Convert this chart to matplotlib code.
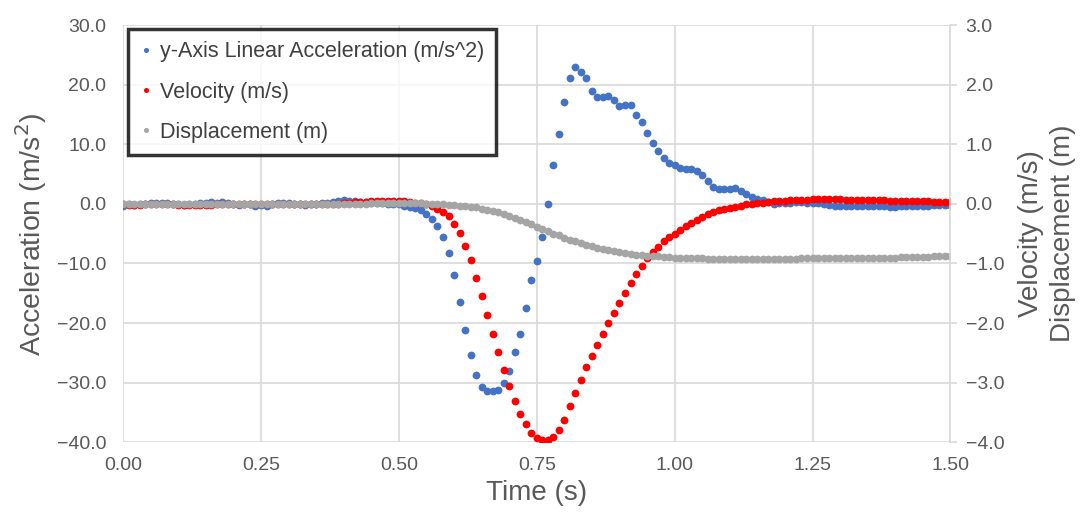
import numpy as np
import matplotlib
matplotlib.use("Agg")
import matplotlib.pyplot as plt
from matplotlib.ticker import FuncFormatter

plt.rcParams['font.family'] = ['Liberation Sans', 'DejaVu Sans']

# =============================================================================
# data (read off the chart, sampled every 0.01 s)
# =============================================================================
time_s = np.round(np.arange(0, 151) * 0.01, 2)

accel = [
    -0.3, -0.1, -0.2, -0.1, 0.0, 0.1, 0.2, 0.1, 0.2, 0.0,
    -0.1, -0.2, -0.1, 0.0, 0.1, 0.2, 0.3, 0.2, 0.3, 0.1,
    -0.1, -0.2, 0.0, -0.1, -0.3, -0.2, -0.3, -0.1, 0.1, 0.2,
    0.1, 0.0, -0.1, -0.2, -0.1, 0.0, 0.1, 0.2, 0.3, 0.5,
    0.6, 0.5, 0.4, 0.3, 0.3, 0.2, 0.2, 0.1, 0.0, 0.0,
    -0.1, -0.3, -0.5, -0.7, -1.1, -1.7, -2.5, -3.7, -5.6, -8.3,
    -12.0, -16.5, -21.2, -25.3, -28.8, -30.7, -31.4, -31.4, -31.2, -30.0,
    -28.1, -24.9, -21.9, -17.4, -12.8, -9.6, -5.5, 0.0, 6.5, 11.8,
    17.1, 21.2, 23.0, 22.2, 21.2, 19.0, 17.9, 17.9, 18.1, 17.5,
    16.4, 16.6, 16.6, 15.0, 13.8, 11.9, 10.3, 8.9, 7.7, 6.8,
    6.5, 6.1, 5.9, 5.9, 5.5, 4.9, 3.9, 2.8, 2.5, 2.5,
    2.5, 2.7, 2.1, 1.7, 1.2, 0.8, 0.7, 0.3, 0.0, 0.1,
    0.2, 0.2, 0.3, 0.3, 0.2, 0.2, 0.1, -0.1, -0.2, -0.3,
    -0.4, -0.4, -0.4, -0.3, -0.3, -0.4, -0.4, -0.4, -0.4, -0.5,
    -0.5, -0.4, -0.4, -0.4, -0.3, -0.3, -0.3, -0.2, -0.2, -0.2, -0.2,
]

velocity = [
    -0.01, -0.02, -0.02, -0.02, -0.01, 0.0, 0.0, 0.0, 0.0, 0.0,
    -0.02, -0.02, -0.02, -0.02, -0.02, -0.02, -0.02, 0.0, 0.0, 0.0,
    0.0, 0.0, 0.0, 0.0, 0.0, 0.0, 0.0, 0.0, 0.0, 0.0,
    0.0, 0.0, 0.0, 0.0, 0.0, 0.0, 0.0, 0.0, 0.0, 0.0,
    0.01, 0.02, 0.03, 0.03, 0.03, 0.04, 0.04, 0.04, 0.04, 0.04,
    0.04, 0.04, 0.03, 0.02, 0.01, -0.01, -0.03, -0.08, -0.14, -0.21,
    -0.34, -0.49, -0.71, -0.95, -1.25, -1.55, -1.86, -2.18, -2.49, -2.78,
    -3.06, -3.31, -3.53, -3.70, -3.84, -3.93, -3.97, -3.97, -3.91, -3.79,
    -3.62, -3.40, -3.17, -2.95, -2.74, -2.55, -2.37, -2.18, -2.00, -1.83,
    -1.66, -1.49, -1.33, -1.17, -1.04, -0.91, -0.81, -0.72, -0.63, -0.56,
    -0.50, -0.44, -0.37, -0.32, -0.27, -0.22, -0.17, -0.14, -0.11, -0.09,
    -0.07, -0.05, -0.03, -0.01, 0.00, 0.01, 0.02, 0.03, 0.04, 0.05,
    0.05, 0.06, 0.06, 0.07, 0.07, 0.08, 0.08, 0.08, 0.08, 0.08,
    0.08, 0.07, 0.07, 0.07, 0.07, 0.06, 0.06, 0.06, 0.06, 0.05,
    0.05, 0.05, 0.05, 0.04, 0.04, 0.04, 0.04, 0.03, 0.03, 0.03, 0.03,
]

displacement = [
    0.0, 0.0, 0.0, 0.0, 0.0, 0.0, 0.0, 0.0, 0.0, 0.0,
    0.0, 0.0, 0.0, 0.0, 0.0, 0.0, 0.0, 0.0, 0.0, 0.0,
    0.0, 0.0, 0.0, 0.0, 0.0, 0.0, 0.0, 0.0, 0.0, 0.0,
    0.0, 0.0, 0.0, 0.0, 0.0, 0.0, 0.0, 0.0, 0.0, 0.0,
    0.0, 0.0, 0.0, 0.0, 0.0, 0.01, 0.01, 0.01, 0.01, 0.01,
    0.01, 0.01, 0.01, 0.01, 0.01, 0.0, -0.01, -0.01, -0.01, -0.02,
    -0.02, -0.03, -0.04, -0.05, -0.06, -0.08, -0.10, -0.12, -0.14, -0.17,
    -0.20, -0.23, -0.27, -0.30, -0.34, -0.38, -0.42, -0.46, -0.50, -0.53,
    -0.57, -0.60, -0.63, -0.66, -0.69, -0.71, -0.74, -0.76, -0.78, -0.79,
    -0.81, -0.82, -0.84, -0.85, -0.86, -0.87, -0.88, -0.88, -0.89, -0.89,
    -0.90, -0.90, -0.91, -0.91, -0.91, -0.91, -0.92, -0.92, -0.92, -0.92,
    -0.92, -0.92, -0.92, -0.92, -0.92, -0.92, -0.92, -0.92, -0.92, -0.92,
    -0.92, -0.92, -0.92, -0.91, -0.91, -0.91, -0.91, -0.91, -0.91, -0.91,
    -0.91, -0.91, -0.90, -0.90, -0.90, -0.90, -0.90, -0.90, -0.90, -0.90,
    -0.90, -0.89, -0.89, -0.89, -0.89, -0.89, -0.89, -0.88, -0.88, -0.88, -0.88,
]

x_ticks = [0.0, 0.25, 0.5, 0.75, 1.0, 1.25, 1.5]
acc_ticks = [-40, -30, -20, -10, 0, 10, 20, 30]
vel_ticks = [-4, -3, -2, -1, 0, 1, 2, 3]


def fmt1(v, pos):
    # excel style: wide minus sign
    s = '%.1f' % abs(v)
    return ('\u2212' + s) if v < -1e-9 else s


# =============================================================================
# plot
# =============================================================================
txt = '#595959'
grid = '#d9d9d9'

fig = plt.figure(figsize=(10.8, 5.13), dpi=100)
ax = fig.add_axes([0.114, 0.138, 0.766, 0.813])
ax2 = ax.twinx()

ms = 5.6
h1, = ax.plot(time_s, accel, 'o', color='#4472c4', ms=ms, mew=0,
              label='y-Axis Linear Acceleration (m/s^2)')
h2, = ax2.plot(time_s, velocity, 'o', color='#ff0000', ms=ms, mew=0,
               label='Velocity (m/s)')
h3, = ax2.plot(time_s, displacement, 'o', color='#a5a5a5', ms=ms, mew=0,
               label='Displacement (m)')

ax.set_xlim(0, 1.5)
ax.set_ylim(-40, 30)
ax2.set_ylim(-4, 3)
ax.set_xticks(x_ticks)
ax.set_yticks(acc_ticks)
ax2.set_yticks(vel_ticks)
ax.xaxis.set_major_formatter(FuncFormatter(lambda v, p: '%.2f' % v))
ax.yaxis.set_major_formatter(FuncFormatter(fmt1))
ax2.yaxis.set_major_formatter(FuncFormatter(fmt1))

ax.grid(True, color=grid, lw=1.2)
ax.set_axisbelow(True)
for a in (ax, ax2):
    for s in a.spines.values():
        s.set_visible(False)
ax2.spines['right'].set_visible(True)
ax2.spines['right'].set_color(grid)
ax2.spines['right'].set_linewidth(1.2)

ax.tick_params(axis='both', length=0, labelsize=14, colors=txt, pad=12)
ax.tick_params(axis='x', pad=11)
ax2.tick_params(axis='y', length=5, width=1.2, color=grid, labelsize=14,
                labelcolor=txt, pad=6, direction='out')

ax.set_xlabel('Time (s)', fontsize=20, color=txt, labelpad=4)
ax.set_ylabel('Acceleration (m/s$^2$)', fontsize=20.5, color=txt, labelpad=6)
ax2.set_ylabel('Velocity (m/s)\nDisplacement (m)', fontsize=20, color=txt,
               labelpad=10, linespacing=1.3)

leg = ax2.legend(handles=[h1, h2, h3], loc='upper left',
                 bbox_to_anchor=(0.006, 0.99), fontsize=15.5,
                 frameon=True, fancybox=False, edgecolor='black',
                 markerscale=0.65, handlelength=0.6, handletextpad=0.35,
                 labelspacing=0.9, borderpad=0.55, borderaxespad=0)
leg.get_frame().set_linewidth(2.5)
for t in leg.get_texts():
    t.set_color('#404040')

fig.savefig('out.png', dpi=100)
